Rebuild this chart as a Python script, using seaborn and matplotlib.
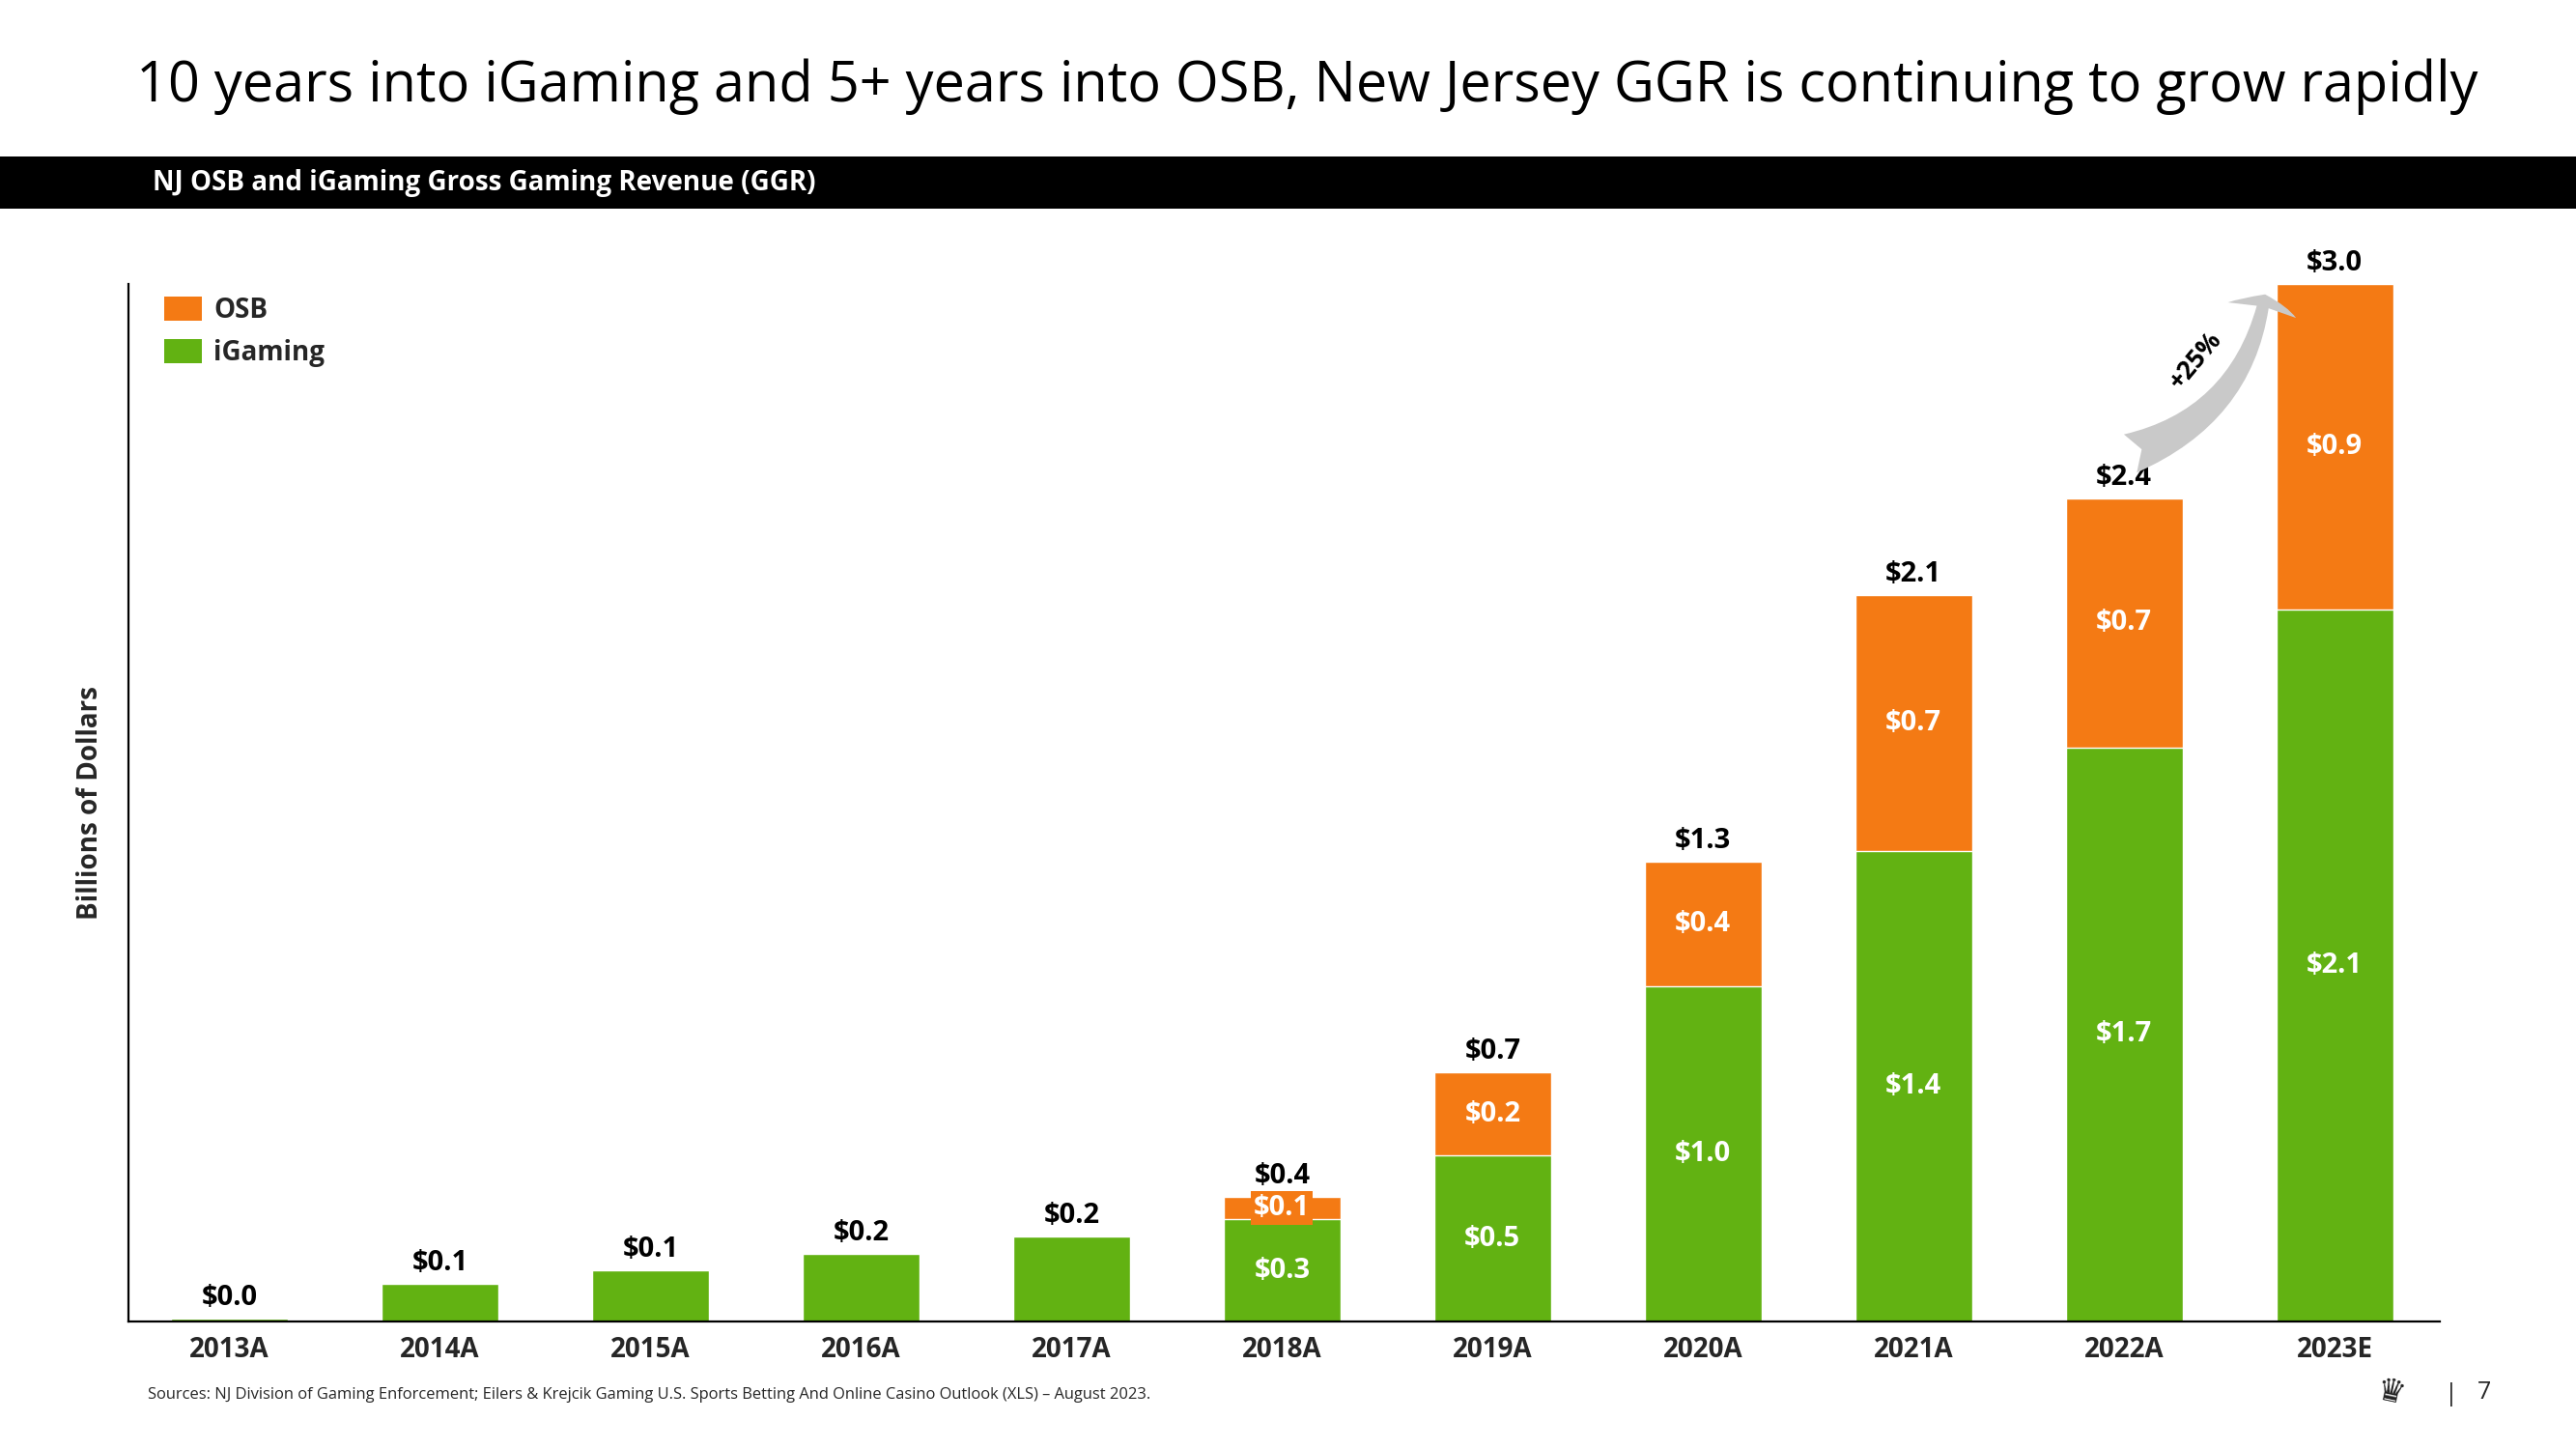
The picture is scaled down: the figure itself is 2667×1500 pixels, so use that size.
import matplotlib
matplotlib.use("Agg")
import matplotlib.pyplot as plt
import seaborn as sns
import pandas as pd
from matplotlib.patches import FancyArrowPatch, Rectangle, Patch, ArrowStyle

# ---------------- data ----------------
years = ["2013A", "2014A", "2015A", "2016A", "2017A", "2018A",
         "2019A", "2020A", "2021A", "2022A", "2023E"]
igaming = [0.008, 0.109, 0.147, 0.195, 0.247, 0.295, 0.48, 0.97, 1.36, 1.66, 2.06]
osb = [0.0, 0.0, 0.0, 0.0, 0.0, 0.065, 0.24, 0.36, 0.74, 0.72, 0.94]
growth_label = "+25%"

title = "10 years into iGaming and 5+ years into OSB, New Jersey GGR is continuing to grow rapidly"
subtitle = "NJ OSB and iGaming Gross Gaming Revenue (GGR)"
ylabel = "Billions of Dollars"
source = ("Sources: NJ Division of Gaming Enforcement; Eilers & Krejcik Gaming U.S. Sports "
          "Betting And Online Casino Outlook (XLS) \u2013 August 2023.")
page = "7"

ORANGE = "#F47A14"
GREEN = "#62B212"

df = pd.DataFrame({"year": years, "iGaming": igaming, "OSB": osb})
df["total"] = df["iGaming"] + df["OSB"]

sns.set_style("white")
plt.rcParams["font.family"] = ["Open Sans", "DejaVu Sans"]

W, H = 2667, 1500
fig = plt.figure(figsize=(W / 100, H / 100), dpi=100)
ax = fig.add_axes([133 / W, 1 - 1368 / H, (2526 - 133) / W, (1368 - 294) / H])

bw = 0.555
sns.barplot(data=df, x="year", y="total", color=ORANGE, saturation=1, width=bw,
            ax=ax, errorbar=None)
sns.barplot(data=df, x="year", y="iGaming", color=GREEN, saturation=1, width=bw,
            ax=ax, errorbar=None)

ax.set_ylim(0, 3.0)
ax.set_xlim(-0.48, 10.5)
ax.set_yticks([])
ax.set_xlabel("")
ax.set_ylabel(ylabel, fontsize=20, fontweight="bold", labelpad=18)
ax.tick_params(axis="x", length=0, pad=11, labelsize=20)
for lab in ax.get_xticklabels():
    lab.set_fontweight("bold")
for s in ["top", "right"]:
    ax.spines[s].set_visible(False)
for s in ["left", "bottom"]:
    ax.spines[s].set_color("black")
    ax.spines[s].set_linewidth(1.6)

# total labels above stacks
tot_container = ax.containers[0]
ax.bar_label(tot_container, labels=[f"${v:.1f}" for v in df["total"]],
             padding=5, fontsize=21, fontweight="bold", color="black", clip_on=False)

# inner labels where OSB exists
for i, (g, o) in enumerate(zip(igaming, osb)):
    if o > 0:
        ax.text(i, g / 2, f"${g:.1f}", ha="center", va="center", color="white",
                fontsize=21, fontweight="bold")
        kw = {}
        if o < 0.1:
            kw["bbox"] = dict(boxstyle="square,pad=0.1", facecolor=ORANGE, edgecolor="none")
        ax.text(i, g + o / 2, f"${o:.1f}", ha="center", va="center", color="white",
                fontsize=21, fontweight="bold", **kw)

# legend
handles = [Patch(facecolor=ORANGE, edgecolor="none", label="OSB"),
           Patch(facecolor=GREEN, edgecolor="none", label="iGaming")]
leg = ax.legend(handles=handles, loc="upper left", bbox_to_anchor=(0.0155, 0.988),
                frameon=False, borderpad=0, borderaxespad=0, handlelength=1.4,
                handleheight=1.0, handletextpad=0.45, labelspacing=0.55,
                prop={"size": 20, "weight": "bold"})

# growth arrow between last two totals
n = len(years)
x0, y0 = n - 2 + 0.03, df["total"].iloc[-2] + 0.13
x1, y1 = n - 1 - 0.33, df["total"].iloc[-1] - 0.03
arr = FancyArrowPatch((x0, y0), (x1, y1),
                      arrowstyle=ArrowStyle.Fancy(head_length=12, head_width=52, tail_width=30),
                      connectionstyle="arc3,rad=0.3", mutation_scale=1,
                      shrinkA=0, shrinkB=0, facecolor="#C9C9C9", edgecolor="none",
                      clip_on=False, zorder=3)
ax.add_patch(arr)
ax.text((x0 + x1) / 2 - 0.01, (y0 + y1) / 2 + 0.04, growth_label, rotation=50,
        ha="center", va="center", fontsize=19, fontweight="bold", color="black",
        clip_on=False)

# header: title and black banner
fig.text(141 / W, 1 - 90 / H, title, fontsize=41.5, ha="left", va="center", color="black")
fig.add_artist(Rectangle((0, 1 - 216 / H), 1, 54 / H, transform=fig.transFigure,
                         facecolor="black", edgecolor="none"))
fig.text(158 / W, 1 - 190 / H, subtitle, fontsize=20, fontweight="bold", color="white",
         ha="left", va="center")

# footer
fig.text(153 / W, 1 - 1444 / H, source, fontsize=11.9, ha="left", va="center")
fig.text(2475 / W, 1 - 1442 / H, "\u265B", fontsize=24, ha="center", va="center",
         color="#222222", rotation=-12, family=["DejaVu Sans"])
fig.text(2538 / W, 1 - 1443 / H, "|", fontsize=18, ha="center", va="center")
fig.text(2572 / W, 1 - 1441 / H, page, fontsize=18, ha="center", va="center")

fig.savefig("out.png", dpi=100, facecolor="white")
